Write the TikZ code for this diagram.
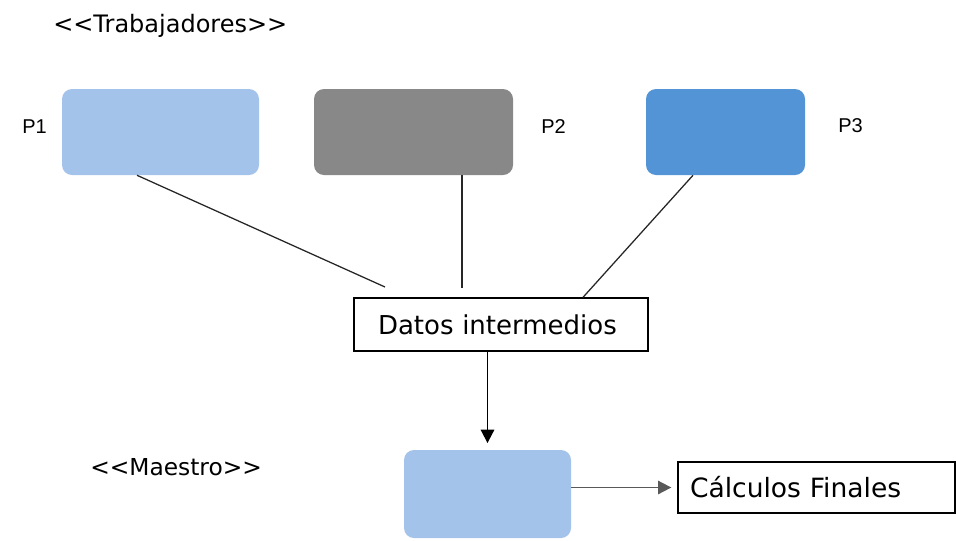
\documentclass[tikz,border=0pt]{standalone}
\usepackage{fontspec}
\setmainfont{DejaVu Sans}
\newfontfamily\labelfont{Liberation Sans}
\usetikzlibrary{calc,arrows.meta}
\definecolor{lightblue}{HTML}{A4C3EB}
\definecolor{midblue}{HTML}{5394D7}
\definecolor{boxgray}{HTML}{888888}
\newcommand{\dlt}{<\kern0pt<}
\newcommand{\dgt}{>\kern0pt>}
\tikzset{
  worker/.style={rounded corners=7.5pt, minimum width=#1, minimum height=64.5pt, inner sep=0pt},
  databox/.style={draw=black, line width=1pt, fill=white, align=left, inner ysep=0pt},
  stereo/.style={anchor=base west, inner sep=0pt, font=\fontsize{18}{20}\selectfont},
  plabel/.style={anchor=base west, inner sep=0pt, font=\labelfont\fontsize{15}{17}\selectfont},
  link/.style={draw=black!85, line width=0.95pt},
  flow/.style={draw=black, line width=1.4pt, -{Triangle[length=10pt,width=10pt]}},
}
\begin{document}
\begin{tikzpicture}[x=0.75pt,y=-0.75pt]
\useasboundingbox (0,0) rectangle (956,540);

% stereotype labels
\node[stereo] (trab) at (53,32) {\dlt Trabajadores\dgt};
\node[stereo, font=\fontsize{17.5}{20}\selectfont] (maes) at (90,475) {\dlt Maestro\dgt};

% worker processes
\node[worker=147.75pt, fill=lightblue] (p1) at (160.5,132) {};
\node[worker=149.25pt, fill=boxgray] (p2) at (413.5,132) {};
\node[worker=119.25pt, fill=midblue] (p3) at (725.5,132) {};
\node[plabel] (l1) at (22,133) {P1};
\node[plabel] (l2) at (541,133) {P2};
\node[plabel] (l3) at (838,132) {P3};

% intermediate data
\node[databox, text width=184.5pt, inner xsep=18pt, minimum height=39.75pt,
      font=\fontsize{19.5}{22}\selectfont] (datos) at (501,324.5) {Datos intermedios};

% master process and final result
\node[worker=125.25pt, minimum height=66pt, fill=lightblue] (master) at (487.5,494) {};
\node[databox, text width=189.75pt, inner xsep=9pt, minimum height=38.25pt,
      font=\fontsize{19.9}{22}\selectfont] (calc) at (816.5,487.5) {Cálculos Finales};

% connectors from workers to the data
\coordinate (e1) at (385,287);
\coordinate (e2) at (462,288);
\draw[link] ($(p1.south)+(-23.5,0)$) -- (e1);
\draw[link] ($(p2.south)+(48.5,0)$) -- (e2);
\draw[link] ($(p3.south)+(-32.5,0)$) -- ($(datos.north)+(82,0)$);

% data to master, master to final calculations
\draw[flow, shorten >=5pt] (master.north |- datos.south) -- (master.north);
\draw[flow, draw=black!65, shorten >=4.5pt] (master.east |- calc.west) -- (calc.west);
\end{tikzpicture}
\end{document}
